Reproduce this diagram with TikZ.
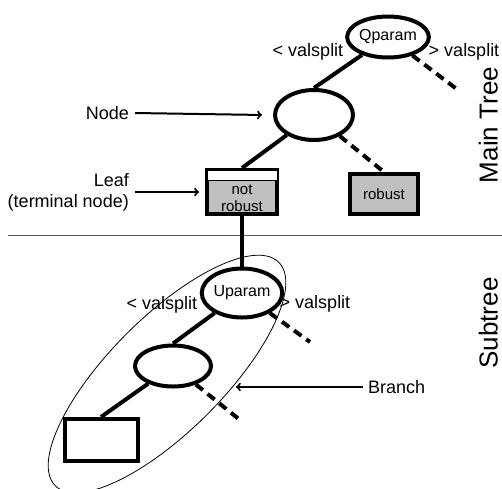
\documentclass[tikz,border=0pt]{standalone}
\usepackage{fontspec}
\setmainfont{Liberation Sans}
\usetikzlibrary{positioning,arrows,shapes.geometric}
\definecolor{leafgray}{RGB}{192,192,192}
\definecolor{rulegray}{RGB}{90,90,90}

\begin{document}
\begin{tikzpicture}[x=1pt,y=-1pt,
    every node/.style={font=\fontsize{18}{21}\selectfont},
    split/.style={ellipse,draw,line width=4pt,minimum width=78pt,minimum height=48pt,inner sep=0pt,font=\fontsize{16}{18}\selectfont},
    leafbox/.style={rectangle,draw,line width=4pt,fill=leafgray,inner sep=0pt,font=\fontsize{15}{17}\selectfont,align=center},
    edge/.style={line width=4pt},
    other/.style={line width=4pt,dash pattern=on 9pt off 6pt},
    pointer/.style={->,line width=2pt,shorten >=2pt},
    side/.style={rotate=90,anchor=south,inner sep=0pt,font=\fontsize{26}{30}\selectfont}]
    \useasboundingbox (0,0) rectangle (502,488);
    % main tree
    \node[split,minimum height=41pt] (Qparam) at (388,37) {Qparam};
    \node[split,minimum height=50pt] (Mid) at (314,115) {};
    \node[leafbox,minimum width=70pt,minimum height=44pt] (NotRobust) at (242,192) {};
    \draw[fill=white,line width=1pt] ([shift={(2,2)}]NotRobust.north west) rectangle ([shift={(-2,12)}]NotRobust.north east);
    \node[font=\fontsize{15}{17}\selectfont,align=center,inner sep=0pt] (NotRobustText) at ([yshift=-6pt]NotRobust.center) {not\\robust};
    \node[leafbox,minimum width=68pt,minimum height=40pt] (Robust) at (384,194) {robust};
    \coordinate (QRight) at (458,90);
    \draw[edge] (Qparam) -- (Mid.north);
    \draw[other] (Qparam) -- (QRight);
    \draw[edge] (Mid) -- (NotRobust.north);
    \draw[other] (Mid) -- (Robust.north);
    \node (QLess) at (308,52) {< valsplit};
    \node (QMore) at (464,52) {> valsplit};
    % labels on the left
    \node[anchor=east,inner sep=0pt] (NodeText) at (129,113) {Node};
    \node[anchor=east,inner sep=0pt,align=right] (LeafText) at (129,192) {Leaf\\(terminal node)};
    \draw[pointer] ([xshift=6]NodeText.east) -- ([xshift=-9]Mid.west);
    \draw[pointer] ([xshift=6]LeafText.east) -- ([xshift=-4]NotRobust.west);
    % separator
    \draw[rulegray,line width=1pt] (8,235) -- (502,235);
    \node[side] (MainTree) at (498,125) {Main Tree};
    \node[side] (Subtree) at (498,323) {Subtree};
    % subtree
    \node[ellipse,draw,line width=0.8pt,minimum width=316pt,minimum height=114pt,rotate=45,inner sep=0pt] (Hull) at (167,374) {};
    \node[split,minimum height=49pt] (Uparam) at (242,293) {Uparam};
    \node[split,minimum width=76pt,minimum height=41pt] (Lower) at (173,366) {};
    \node[leafbox,fill=white,minimum width=73pt,minimum height=42pt] (Empty) at (101,440) {};
    \coordinate (URight) at (310,342);
    \coordinate (LRight) at (240,420);
    \draw[edge] (NotRobust.south) -- (Uparam.north);
    \draw[edge] (Uparam) -- (Lower.north);
    \draw[other] (Uparam) -- (URight);
    \draw[edge] (Lower) -- (Empty.north);
    \draw[other] (Lower) -- (LRight);
    \node (ULess) at (162,305) {< valsplit};
    \node (UMore) at (315,304) {> valsplit};
    \node[anchor=west,inner sep=0pt] (BranchText) at (368,387) {Branch};
    \coordinate (HullPoint) at (236,387);
    \draw[pointer,shorten >=0pt] ([xshift=-5]BranchText.west) -- (HullPoint);
  \end{tikzpicture}
\end{document}
